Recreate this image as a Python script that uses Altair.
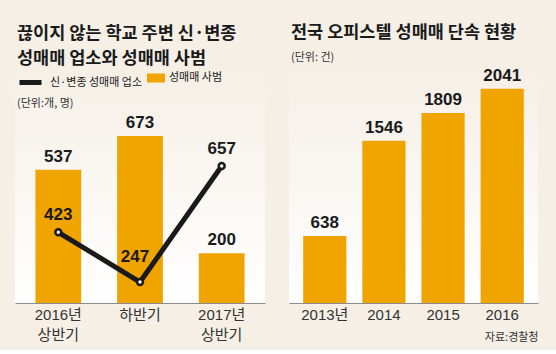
import altair as alt
import pandas as pd

# ---------------- data ----------------
periods = ["2016년|상반기", "하반기", "2017년|상반기"]
offenders = [537, 673, 200]          # 성매매 사범 (bars)
venues = [423, 247, 657]             # 신·변종 성매매 업소 (line)

years = ["2013년", "2014", "2015", "2016"]
crackdowns = [638, 1546, 1809, 2041]

left_title = ["끊이지 않는 학교 주변 신·변종", "성매매 업소와 성매매 사범"]
right_title = "전국 오피스텔 성매매 단속 현황"
line_name = "신·변종 성매매 업소"
bar_name = "성매매 사범"
left_unit = "(단위:개, 명)"
right_unit = "(단위: 건)"
source = "자료:경찰청"

# ---------------- styles ----------------
BG = "#f5efe6"
ORANGE = "#efa400"
INK = "#1a1a1a"
NUM_FONT = "Liberation Sans Narrow, Liberation Sans, Arial"
KR_FONT = "Noto Sans CJK KR"
LABEL_FONT = "Liberation Sans Narrow, Liberation Sans, Noto Sans CJK KR"

W_L, W_R, H = 250, 249, 232

panel_fill = alt.LinearGradient(
    gradient="linear",
    stops=[alt.GradientStop(color=BG, offset=0), alt.GradientStop(color="#ffffff", offset=1)],
    x1=0, x2=0, y1=0, y2=1,
)

left_df = pd.DataFrame({
    "period": periods, "offenders": offenders, "venues": venues,
    "bar_series": [bar_name] * len(periods), "line_series": [line_name] * len(periods),
})
right_df = pd.DataFrame({"year": years, "count": crackdowns})
one_row = pd.DataFrame({"t": [left_unit]})

num_style = dict(baseline="middle", fontSize=17, fontWeight="bold", font=NUM_FONT, color=INK)

# ---------------- left chart ----------------
x_left = alt.X(
    "period:N", sort=periods,
    scale=alt.Scale(paddingInner=0.44, paddingOuter=0.25),
    axis=alt.Axis(title=None, labelExpr="split(datum.label, '|')"),
)
y_bar = alt.Y("offenders:Q", scale=alt.Scale(domain=[0, 935], nice=False), axis=None)
y_line = alt.Y("venues:Q", scale=alt.Scale(domain=[173, 993], nice=False, zero=False), axis=None)

panel_l = alt.Chart(one_row).mark_rect(fill=panel_fill).encode(
    x=alt.value(0), x2=alt.value(W_L), y=alt.value(0), y2=alt.value(H)
)

base = alt.Chart(left_df)
bars_l = base.mark_bar().encode(
    x=x_left, y=y_bar,
    fill=alt.Fill("bar_series:N", scale=alt.Scale(range=[ORANGE]),
                  legend=alt.Legend(orient="none", legendX=132, legendY=-2, title=None,
                                    symbolType="M-1,-0.5H1V0.5H-1Z", symbolSize=324,
                                    symbolStrokeWidth=0, labelFont=KR_FONT, labelFontSize=11,
                                    labelColor=INK, labelOffset=4)),
)
bar_text_l = base.mark_text(dy=-13, **num_style).encode(x=x_left, y=y_bar, text="offenders:Q")
line_l = base.mark_line(strokeWidth=5, strokeCap="round", strokeJoin="round").encode(
    x=x_left, y=y_line,
    stroke=alt.Stroke("line_series:N", scale=alt.Scale(range=[INK]),
                      legend=alt.Legend(orient="none", legendX=2, legendY=-2, title=None,
                                        symbolType="stroke", symbolSize=484, symbolStrokeWidth=5,
                                        labelFont=KR_FONT, labelFontSize=11, labelColor=INK,
                                        labelOffset=6)),
)
points_l = base.mark_point(shape="circle", filled=True, fill="white", stroke=INK,
                           strokeWidth=2.5, size=35, opacity=1).encode(x=x_left, y=y_line)
line_text_outer = base.transform_filter(alt.datum.period != "하반기").mark_text(
    dy=-17, **num_style).encode(x=x_left, y=y_line, text="venues:Q")
line_text_mid = base.transform_filter(alt.datum.period == "하반기").mark_text(
    dy=-25, dx=-5, **num_style).encode(x=x_left, y=y_line, text="venues:Q")
unit_l = alt.Chart(one_row).mark_text(align="left", baseline="middle", font=KR_FONT,
                                      fontSize=11, color="#333333").encode(
    text="t:N", x=alt.value(2), y=alt.value(33)
)

left = alt.layer(panel_l, bars_l, bar_text_l, line_l, points_l, line_text_outer,
                 line_text_mid, unit_l).resolve_scale(y="independent").properties(
    width=W_L, height=H,
    title=alt.Title(left_title, anchor="start", font=KR_FONT, fontSize=17.5, fontWeight="bold",
                    lineHeight=25, color=INK, offset=4, dx=2),
)

# ---------------- right chart ----------------
x_right = alt.X(
    "year:N", sort=years,
    scale=alt.Scale(paddingInner=0.27, paddingOuter=0.24),
    axis=alt.Axis(title=source, titleAnchor="end", titleFont=KR_FONT, titleFontSize=11,
                  titleFontWeight="normal", titleColor="#333333", titlePadding=9),
)
y_right = alt.Y("count:Q", scale=alt.Scale(domain=[0, 2210], nice=False), axis=None)

panel_r = alt.Chart(one_row).mark_rect(fill=panel_fill).encode(
    x=alt.value(0), x2=alt.value(W_R), y=alt.value(0), y2=alt.value(H)
)
base_r = alt.Chart(right_df)
bars_r = base_r.mark_bar(color=ORANGE).encode(x=x_right, y=y_right)
text_r = base_r.mark_text(dy=-13, **num_style).encode(x=x_right, y=y_right, text="count:Q")

right = alt.layer(panel_r, bars_r, text_r).properties(
    width=W_R, height=H,
    title=alt.Title(right_title, subtitle=right_unit, anchor="start", font=KR_FONT, fontSize=17.5,
                    fontWeight="bold", color=INK, subtitleFont=KR_FONT, subtitleFontSize=11,
                    subtitleColor="#333333", subtitlePadding=10, offset=4, dx=2),
)

chart = alt.hconcat(left, right, spacing=24, bounds="flush").configure(
    background=BG,
    padding={"left": 15, "top": 24, "right": 18, "bottom": 8},
).configure_view(strokeWidth=0).configure_axisX(
    domainColor="#8c8c8c", domainWidth=1, ticks=False, grid=False, labelAngle=0,
    labelFont=LABEL_FONT, labelFontSize=15, labelColor="#333333", labelPadding=4,
    labelLineHeight=20, labelBaseline="top",
)

chart.save("out.html", embed_options={"renderer": "svg", "actions": False})
